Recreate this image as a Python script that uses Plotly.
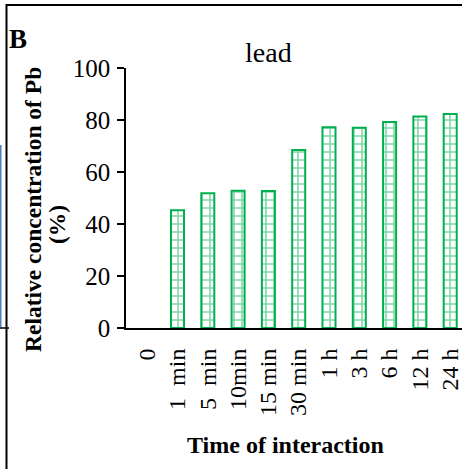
import plotly.graph_objects as go

categories = ["0", "1\u00a0\u00a0min", "5\u00a0\u00a0min", "10min", "15 min", "30 min",
              "1 h", "3 h", "6 h", "12 h", "24 h"]
values = [0, 45.3, 51.8, 52.8, 52.7, 68.5, 77.2, 77.0, 79.2, 81.3, 82.3]
y_ticks = [0, 20, 40, 60, 80, 100]

W, H = 462, 469
L, R, T, B = 126, 0, 68, 141
PW, PH = W - L - R, H - T - B

def px(x):
    return (x - L) / PW

def py(y):
    return (H - B - y) / PH

GREEN = "#00B050"
SERIF = "Liberation Serif, Times New Roman, serif"

fig = go.Figure()
fig.add_trace(go.Bar(
    x=list(range(len(categories))), y=values, width=0.43,
    marker=dict(color="white",
                line=dict(color=GREEN, width=[0 if v == 0 else 2 for v in values]),
                pattern=dict(shape="+", fgcolor=GREEN, bgcolor="white",
                             size=8, solidity=0.35, fillmode="overlay")),
    showlegend=False, hoverinfo="skip",
))

fig.update_layout(
    width=W, height=H,
    margin=dict(l=L, r=R, t=T, b=B, pad=0),
    plot_bgcolor="white", paper_bgcolor="white",
    font=dict(family=SERIF, color="black"),
    bargap=0.5,
)
fig.update_xaxes(
    range=[-0.7, 10.39], tickmode="array",
    tickvals=list(range(len(categories))), ticktext=categories,
    tickangle=-90, tickfont=dict(size=24, family=SERIF, color="black"),
    showline=True, linecolor="black", linewidth=2, ticks="",
    showgrid=False, zeroline=False, ticklabelstandoff=9,
    ticklabeloverflow="allow",
)
fig.update_yaxes(
    range=[0, 100], tickmode="array", tickvals=y_ticks,
    tickfont=dict(size=25, family=SERIF, color="black"),
    showline=True, linecolor="black", linewidth=1.5,
    ticks="outside", ticklen=7, tickwidth=1.5, tickcolor="black",
    showgrid=False, zeroline=False, ticklabelstandoff=2,
)

ann = [
    dict(text="lead", x=px(268), y=py(52), font=dict(size=28)),
    dict(text="<b>B</b>", x=px(18), y=py(39), font=dict(size=27)),
    dict(text="<b>Relative concentration of Pb</b>", x=px(33), y=py(210),
         textangle=-90, font=dict(size=23.5)),
    dict(text="<b>(%)</b>", x=px(57), y=py(225), textangle=-90, font=dict(size=23.5)),
    dict(text="<b>Time of interaction</b>", x=px(285), y=py(445), font=dict(size=24)),
]
for a in ann:
    fig.add_annotation(xref="paper", yref="paper", showarrow=False,
                       xanchor="center", yanchor="middle", **a)

shapes = [
    dict(type="line", x0=px(6.5), x1=px(470), y0=py(5), y1=py(5),
         line=dict(color="black", width=2)),
    dict(type="line", x0=px(6.5), x1=px(6.5), y0=py(4), y1=py(475),
         line=dict(color="black", width=2)),
    dict(type="line", x0=px(-2), x1=px(9), y0=py(328), y1=py(328),
         line=dict(color="black", width=1.5)),
    dict(type="rect", x0=px(-2), x1=px(1.5), y0=py(145), y1=py(327),
         fillcolor="#4F81BD", line=dict(width=0)),
]
for s in shapes:
    fig.add_shape(xref="paper", yref="paper", layer="above", **s)

fig.write_html(
    "out.html",
    config={"displayModeBar": False},
    post_script="document.body.style.margin='0';document.body.style.overflow='hidden';",
)
